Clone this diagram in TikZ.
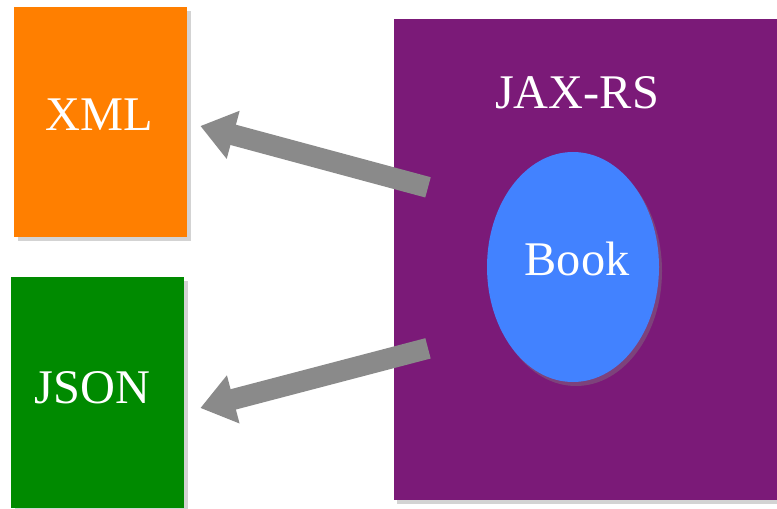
\documentclass[tikz,border=0pt]{standalone}
\usepackage{fontspec}
\setmainfont{Liberation Serif}
\usetikzlibrary{arrows.meta,positioning,shapes.geometric,shadows,calc}
\definecolor{xmlorange}{HTML}{FF7F00}
\definecolor{jsongreen}{HTML}{008A00}
\definecolor{jaxpurple}{HTML}{7B1A78}
\definecolor{bookblue}{HTML}{4282FF}
\definecolor{arrowgray}{HTML}{8A8A8A}
\begin{document}
\begin{tikzpicture}[>=Latex,
  fmtbox/.style={minimum width=3.46cm,minimum height=4.6cm,inner sep=0pt,drop shadow={shadow xshift=0.08cm,shadow yshift=-0.08cm,opacity=0.35}},
  bigtext/.style={text=white,font=\fontsize{27.5}{30}\selectfont},
  bigarrow/.style={arrowgray,line width=0.42cm,-{Triangle[length=0.68cm,width=0.95cm]}}]
\useasboundingbox (0,0) rectangle (15.54,10.16);
\node[fmtbox,fill=xmlorange] (xml) at (2.01,7.71) {};
\node[bigtext] (xmllabel) at (1.99,7.86) {XML};
\node[fmtbox,fill=jsongreen] (json) at (1.95,2.31) {};
\node[bigtext] (jsonlabel) at (1.85,2.40) {JSON};
\node[fill=jaxpurple,minimum width=7.8cm,minimum height=9.62cm,inner sep=0pt,anchor=north west,drop shadow={shadow xshift=0.06cm,shadow yshift=-0.08cm,opacity=0.35}] (jaxrs) at (7.88,9.78) {};
\node[bigtext] (jaxlabel) at (11.54,8.30) {JAX-RS};
\node[ellipse,fill=bookblue,minimum width=3.44cm,minimum height=4.6cm,inner sep=0pt,drop shadow={shadow xshift=0.06cm,shadow yshift=-0.08cm,opacity=0.4}] (book) at (11.46,4.82) {};
\node[bigtext] (booklabel) at (11.54,4.98) {Book};
\coordinate (toxml) at ($(xml.east)+(0.26,-0.07)$);
\coordinate (tojson) at ($(json.east)+(0.32,-0.31)$);
\draw[bigarrow] ($(jaxrs.west)+(0.68,1.45)$) -- (toxml);
\draw[bigarrow] ($(jaxrs.west)+(0.68,-1.77)$) -- (tojson);
\end{tikzpicture}
\end{document}
